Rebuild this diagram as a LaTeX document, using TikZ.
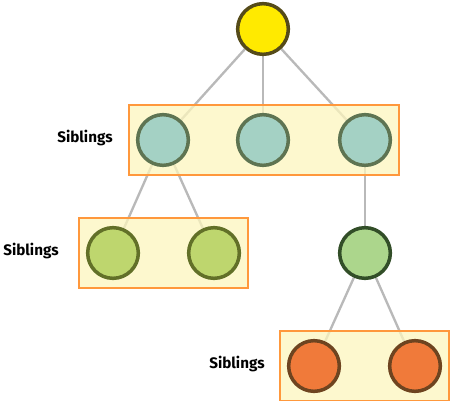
\documentclass[tikz,border=0pt]{standalone}
\usepackage{fontspec}
\setmainfont{Fira Sans}
\usepackage{tikz}
\usetikzlibrary{fit,backgrounds}
\definecolor{rootfill}{RGB}{255,234,0}
\definecolor{rootline}{RGB}{85,75,25}
\definecolor{tealfill}{RGB}{164,209,196}
\definecolor{tealline}{RGB}{94,116,82}
\definecolor{limefill}{RGB}{190,214,110}
\definecolor{limeline}{RGB}{98,112,40}
\definecolor{midfill}{RGB}{172,214,140}
\definecolor{midline}{RGB}{50,78,40}
\definecolor{orangefill}{RGB}{240,122,58}
\definecolor{orangeline}{RGB}{110,68,32}
\definecolor{boxfill}{RGB}{252,246,190}
\definecolor{boxline}{RGB}{255,152,60}
\definecolor{edgegray}{RGB}{185,185,185}

\begin{document}
\begin{tikzpicture}[
    x=0.03cm,y=-0.03cm,
    member/.style={circle,draw=#1line,fill=#1fill,line width=3pt,
      minimum size=1.52cm,inner sep=0pt},
    siblingbox/.style={draw=boxline,line width=1.9pt,fill=boxfill,
      fill opacity=0.75,inner xsep=0.2cm,inner ysep=0.23cm},
    tie/.style={draw=edgegray,line width=2pt},
    label/.style={font=\bfseries\fontsize{13}{15}\selectfont,text=black},
  ]
  \useasboundingbox (0,0) rectangle (450,401);

  \node[member=root] (root) at (263,29) {};

  \foreach \i/\x in {1/163, 2/263, 3/365}
    \node[member=teal] (a\i) at (\x,140) {};

  \foreach \i/\x in {1/113, 2/214}
    \node[member=lime] (b\i) at (\x,253) {};
  \node[member=mid] (c) at (365,253) {};

  \foreach \i/\x in {1/314, 2/415}
    \node[member=orange] (d\i) at (\x,366) {};

  \node[label] (lab1) at (85,138) {Siblings};
  \node[label] (lab2) at (31,251) {Siblings};
  \node[label] (lab3) at (237,364) {Siblings};

  \begin{scope}[on background layer]
    \foreach \t in {a1,a2,a3}
      \draw[tie] (root) -- (\t);
    \draw[tie] (a1) -- (b1);
    \draw[tie] (a1) -- (b2);
    \draw[tie] (a3) -- (c);
    \draw[tie] (c) -- (d1);
    \draw[tie] (c) -- (d2);

    \node[siblingbox,fit=(a1)(a3)] (row1) {};
    \node[siblingbox,fit=(b1)(b2)] (row2) {};
    \node[siblingbox,fit=(d1)(d2)] (row3) {};
  \end{scope}
\end{tikzpicture}
\end{document}
